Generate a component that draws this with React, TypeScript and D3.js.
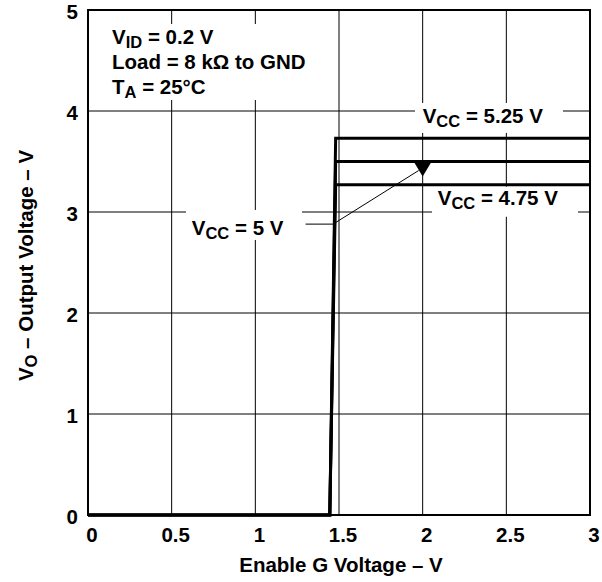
import React from 'react';
import * as d3 from 'd3';

// Enable G voltage (V) breakpoints and output voltage for each supply
const enableV = [0, 1.445, 1.48, 3];
const vout525 = [0, 0, 3.73, 3.73];
const vout500 = [0, 0, 3.5, 3.5];
const vout475 = [0, 0, 3.27, 3.27];
const xTicks = [0, 0.5, 1, 1.5, 2, 2.5, 3];
const xTickLabels = ['0', '0.5', '1', '1.5', '2', '2.5', '3'];
const yTicks = [0, 1, 2, 3, 4, 5];

const W = 602;
const H = 582;
const margin = { top: 10, right: 12, bottom: 67, left: 88 };
const FONT = '"Liberation Sans", Arial, Helvetica, sans-serif';
const FS = 20.5;

const Sub: React.FC<{ main: string; sub: string; rest: string }> = ({ main, sub, rest }) => (
  <>
    <tspan>{main}</tspan>
    <tspan fontSize={16.5} dy={4}>{sub}</tspan>
    <tspan dy={-4}>{rest}</tspan>
  </>
);

const App: React.FC = () => {
  const x = d3.scaleLinear().domain([0, 3]).range([margin.left, W - margin.right]);
  const y = d3.scaleLinear().domain([0, 5]).range([H - margin.bottom, margin.top]);

  const line = d3.line<[number, number]>().x(d => x(d[0])).y(d => y(d[1]));
  const series = [vout525, vout500, vout475].map(v => enableV.map((e, i) => [e, v[i]] as [number, number]));

  const tipX = x(2);
  const tipY = y(3.5) + 15;
  const arrow = `M${tipX - 9},${y(3.5)} L${tipX + 9},${y(3.5)} L${tipX},${tipY} Z`;
  const leader = d3.line<[number, number]>().x(d => d[0]).y(d => d[1])([
    [x(1.3), y(2.88)],
    [x(1.465), y(2.88)],
    [tipX - 4, tipY - 6],
  ]);

  return (
    <svg width={W} height={H} style={{ position: 'absolute', left: 0, top: 0 }} fontFamily={FONT} fontWeight="bold">
      <rect width={W} height={H} fill="#fff" />
      {/* grid */}
      {xTicks.slice(1, -1).map(t => (
        <line key={'gx' + t} x1={x(t)} x2={x(t)} y1={y(0)} y2={y(5)} stroke="#000" strokeWidth={1} />
      ))}
      {yTicks.slice(1, -1).map(t => (
        <line key={'gy' + t} x1={x(0)} x2={x(3)} y1={y(t)} y2={y(t)} stroke="#000" strokeWidth={1} />
      ))}

      {/* label backgrounds */}
      <rect x={106} y={24} width={212} height={76} fill="#fff" />
      <rect x={415} y={y(4.08)} width={148} height={30} fill="#fff" />
      <rect x={432} y={y(3.25)} width={146} height={30} fill="#fff" />
      <rect x={186} y={y(3.02)} width={116} height={30} fill="#fff" />

      {/* curves */}
      {series.map((s, i) => (
        <path key={i} d={line(s) || ''} fill="none" stroke="#000" strokeWidth={3} />
      ))}

      {/* leader and arrow */}
      <path d={leader || ''} fill="none" stroke="#000" strokeWidth={1} />
      <path d={arrow} fill="#000" />

      {/* frame */}
      <rect x={x(0)} y={y(5)} width={x(3) - x(0)} height={y(0) - y(5)} fill="none" stroke="#000" strokeWidth={2} />

      {/* tick labels */}
      {yTicks.map(t => (
        <text key={'ty' + t} x={x(0) - 10} y={y(t) + 9} textAnchor="end" fontSize={FS}>{t}</text>
      ))}
      {xTicks.map((t, i) => (
        <text key={'tx' + t} x={x(t) + 4} y={y(0) + 27} textAnchor="middle" fontSize={FS}>{xTickLabels[i]}</text>
      ))}

      {/* axis titles */}
      <text x={341} y={572} textAnchor="middle" fontSize={FS}>Enable G Voltage – V</text>
      <text transform={`translate(33,${y(2.47)}) rotate(-90)`} textAnchor="middle" fontSize={FS}>
        <Sub main="V" sub="O" rest=" – Output Voltage – V" />
      </text>

      {/* conditions */}
      <text x={112} y={44} fontSize={FS}><Sub main="V" sub="ID" rest=" = 0.2 V" /></text>
      <text x={112} y={69} fontSize={FS}>Load = 8 kΩ to GND</text>
      <text x={112} y={94} fontSize={FS}><Sub main="T" sub="A" rest=" = 25°C" /></text>

      {/* curve labels */}
      <text x={x(2.0)} y={y(3.88)} fontSize={FS}><Sub main="V" sub="CC" rest=" = 5.25 V" /></text>
      <text x={x(2.09)} y={y(3.07)} fontSize={FS}><Sub main="V" sub="CC" rest=" = 4.75 V" /></text>
      <text x={x(0.62)} y={y(2.77)} fontSize={FS}><Sub main="V" sub="CC" rest=" = 5 V" /></text>
    </svg>
  );
};

export default App;
